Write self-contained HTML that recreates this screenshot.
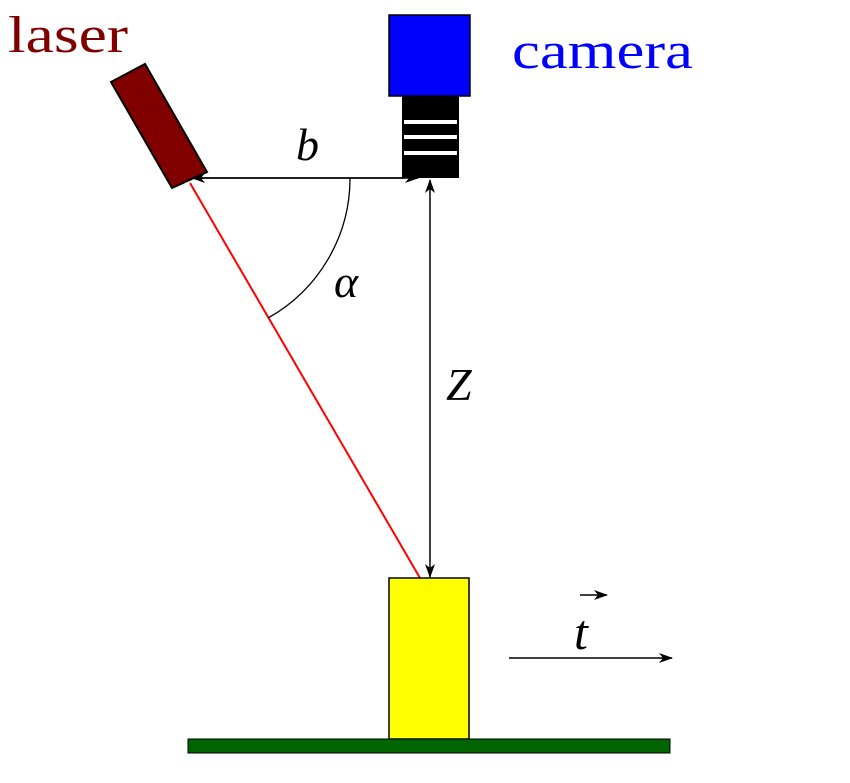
<!DOCTYPE html>
<html><head><meta charset="utf-8"><style>html,body{margin:0;padding:0;background:#fff}</style></head>
<body>
<svg width="850" height="778" viewBox="0 0 850 778" xmlns="http://www.w3.org/2000/svg">
<defs>
<marker id="ah" markerWidth="14" markerHeight="10" refX="13" refY="5" orient="auto" markerUnits="userSpaceOnUse">
<path d="M0,0 L14,5 L0,10 L4,5 Z" fill="#000"/>
</marker>
</defs>
<text x="8" y="52" font-family="Liberation Serif, serif" font-size="52" fill="#800000" textLength="120" lengthAdjust="spacingAndGlyphs">laser</text>
<text x="512" y="68" font-family="Liberation Serif, serif" font-size="52" fill="#0000ff" textLength="181" lengthAdjust="spacingAndGlyphs">camera</text>
<polygon points="111,82 145,64 207,172 172,188" fill="#800000" stroke="#000" stroke-width="2"/>
<rect x="389" y="15" width="81" height="81" fill="#0000ff" stroke="#000" stroke-width="1.5"/>
<rect x="402" y="96" width="57" height="82" fill="#000"/>
<rect x="404" y="120" width="53" height="4" fill="#fff"/>
<rect x="404" y="135" width="53" height="4" fill="#fff"/>
<rect x="404" y="151" width="53" height="4" fill="#fff"/>
<line x1="190" y1="183" x2="420" y2="578" stroke="#ff0000" stroke-width="2"/>
<line x1="405" y1="178" x2="192" y2="178" stroke="#000" stroke-width="1.5" marker-end="url(#ah)"/>
<line x1="192" y1="178" x2="418" y2="178" stroke="#000" stroke-width="1.5" marker-end="url(#ah)"/>
<line x1="430" y1="378" x2="430" y2="180" stroke="#000" stroke-width="1.5" marker-end="url(#ah)"/>
<line x1="430" y1="378" x2="430" y2="577" stroke="#000" stroke-width="1.5" marker-end="url(#ah)"/>
<path d="M350,178 A160,160 0 0 1 268,318" fill="none" stroke="#000" stroke-width="1.3"/>
<text x="296" y="160" font-family="Liberation Serif, serif" font-style="italic" font-size="46">b</text>
<text x="334" y="297" font-family="Liberation Serif, serif" font-style="italic" font-size="46">α</text>
<text x="446" y="400" font-family="Liberation Serif, serif" font-style="italic" font-size="46">Z</text>
<rect x="389" y="578" width="80" height="161" fill="#ffff00" stroke="#000" stroke-width="1.5"/>
<rect x="188" y="739" width="482" height="14" fill="#006400" stroke="#000" stroke-width="1"/>
<line x1="509" y1="658" x2="672" y2="658" stroke="#000" stroke-width="1.5" marker-end="url(#ah)"/>
<text x="574" y="649" font-family="Liberation Serif, serif" font-style="italic" font-size="50">t</text>
<line x1="580" y1="595" x2="607" y2="595" stroke="#000" stroke-width="1.5" marker-end="url(#ah)"/>
</svg>
</body></html>
